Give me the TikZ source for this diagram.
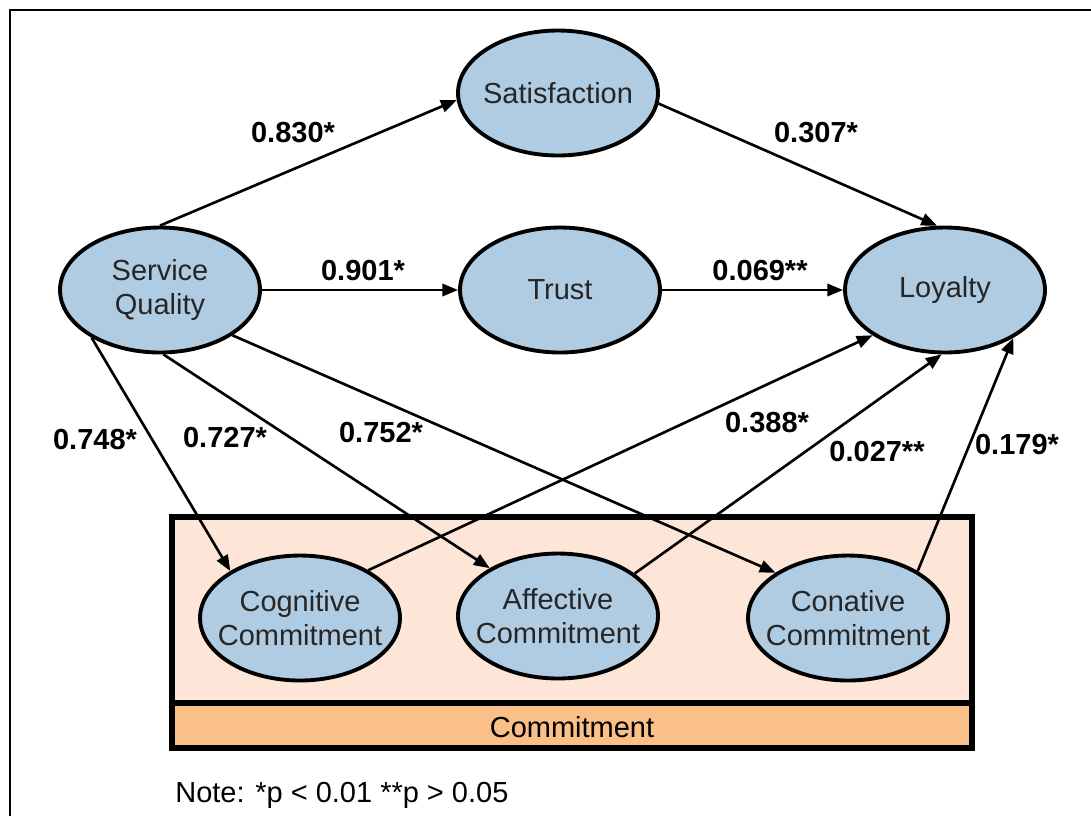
\documentclass[tikz,border=0pt]{standalone}
\usepackage{fontspec}
\setmainfont{Liberation Sans}
\usetikzlibrary{arrows.meta, shapes.geometric}
\definecolor{ovalblue}{HTML}{B0CCE3}
\definecolor{peachlight}{HTML}{FDE6D7}
\definecolor{peachdark}{HTML}{FBBF88}
\begin{document}
\begin{tikzpicture}[x = 0.02cm, y = -0.02cm,
	construct/.style = {ellipse, draw, line width = 2.2pt, fill = ovalblue, minimum width = 4cm, minimum height = 2.5cm, inner xsep = -7pt, inner ysep = 0pt, align = center, text = black!85, font = \fontsize{16.5}{19.5}\selectfont},
	coef/.style = {font = \fontsize{16.5}{19.5}\selectfont\bfseries},
	path/.style = {line width = 1.5pt, -{Triangle[length = 9pt, width = 7pt]}}]
	\useasboundingbox (0, 0) rectangle (1091, 816);
	\draw[line width = 1.2pt] (10, 816) -- (10, 10) -- (1091, 10);
	\draw[line width = 3pt, fill = peachlight] (172, 517) rectangle (972, 703);
	\draw[line width = 3pt, fill = peachdark] (172, 703) rectangle (972, 748);
	\node[font = \fontsize{16.5}{19.5}\selectfont] (commit) at (572, 727) {Commitment};
	\node[construct] (sat)   at (558,  93) {Satisfaction};
	\node[construct] (sq)    at (160, 290) {Service\\Quality};
	\node[construct] (trust) at (560, 290) {Trust};
	\node[construct] (loy)   at (945, 290) {Loyalty};
	\node[construct] (cog)   at (300, 618) {Cognitive\\Commitment};
	\node[construct] (aff)   at (558, 616) {Affective\\Commitment};
	\node[construct] (con)   at (848, 618) {Conative\\Commitment};
	\draw[path] (sq.north) -- (sat.184);
	\draw[path] (sat.-6) -- (loy.97);
	\draw[path] (sq.east) -- (trust.west);
	\draw[path] (trust.east) -- (loy.west);
	\draw[path] (sq.-145) -- (cog.146);
	\draw[path] (sq.-87) -- (aff.145);
	\draw[path] (sq.-32) -- (con.148);
	\draw[path] (cog.35) -- (loy.-148);
	\draw[path] (aff.29) -- (loy.-93);
	\draw[path] (con.34) -- (loy.-35);
	\node[coef] (c830) at (293, 133) {0.830*};
	\node[coef] (c307) at (816, 133) {0.307*};
	\node[coef] (c901) at (363, 271) {0.901*};
	\node[coef] (c069) at (760, 271) {0.069**};
	\node[coef] (c748) at (95,  440) {0.748*};
	\node[coef] (c727) at (225, 438) {0.727*};
	\node[coef] (c752) at (381, 433) {0.752*};
	\node[coef] (c388) at (767, 423) {0.388*};
	\node[coef] (c027) at (877, 452) {0.027**};
	\node[coef] (c179) at (1017, 445) {0.179*};
	\node[anchor = west, font = \fontsize{16.5}{19.5}\selectfont, inner sep = 0pt] (note) at (175, 795) {Note: *p < 0.01 **p > 0.05};
\end{tikzpicture}
\end{document}
